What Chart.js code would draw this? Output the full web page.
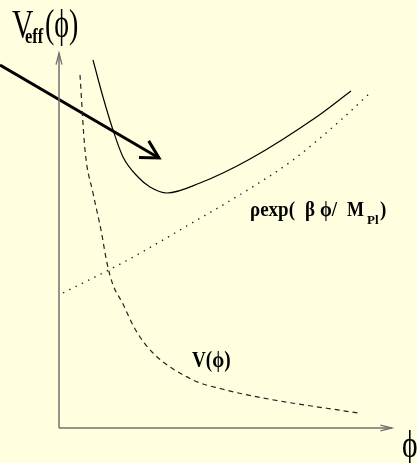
<!DOCTYPE html>
<html>
<head>
<meta charset="utf-8">
<script src="https://cdn.jsdelivr.net/npm/chart.js@4.4.1/dist/chart.umd.min.js"></script>
<style>
  body { margin: 0; background: #ffffe0; }
  canvas { display: block; }
</style>
</head>
<body>
<canvas id="potChart" width="417" height="463"></canvas>
<script>
// effective potential V_eff(phi) (solid)
const phiEff = [3.4, 4.4, 5.4, 6.4, 7.9, 9.1, 10.8, 14.1, 19.1, 25.6, 29.2];
const vEff = [36.8, 33.1, 29.8, 27.1, 25.1, 24.1, 23.5, 24.5, 26.9, 31.0, 33.7];
// bare potential V(phi) (dashed)
const phiV = [2.1, 2.6, 3.4, 4.2, 4.8, 5.4, 6.3, 7.6, 9.3, 13.4, 16.3, 20.4, 29.9];
const vBare = [35.3, 27.8, 23.5, 19.8, 16.5, 14.3, 12.6, 9.9, 7.6, 4.8, 3.9, 3.0, 1.5];
// coupling term rho exp(beta phi / M_Pl) (dotted)
const phiRho = [0.4, 6.7, 12.1, 19.5, 23.4, 28.3, 31.2];
const vRho = [13.5, 16.7, 19.8, 24.2, 26.8, 30.9, 33.6];
// axes and the big arrow
const xAxisEnd = 33.3;
const yAxisEnd = 37.5;
const arrowPhi = [-5.9, 10.0];
const arrowV = [36.3, 27.0];

const pts = (xs, ys) => xs.map((x, i) => ({ x: x, y: ys[i] }));

const arrowHeads = {
    id: 'arrowHeads',
    beforeDraw(chart) {
        const c = chart.ctx;
        c.save();
        c.fillStyle = '#ffffe0';
        c.fillRect(0, 0, chart.width, chart.height);
        c.restore();
    },
    afterDatasetsDraw(chart) {
        const c = chart.ctx;
        const sx = chart.scales.x, sy = chart.scales.y;
        function head(x0, y0, x1, y1, len, ang, color, w) {
            const ax = sx.getPixelForValue(x0), ay = sy.getPixelForValue(y0);
            const bx = sx.getPixelForValue(x1), by = sy.getPixelForValue(y1);
            const a = Math.atan2(ay - by, ax - bx);
            c.save();
            c.strokeStyle = color;
            c.lineWidth = w;
            c.beginPath();
            c.moveTo(bx + len * Math.cos(a - ang), by + len * Math.sin(a - ang));
            c.lineTo(bx, by);
            c.lineTo(bx + len * Math.cos(a + ang), by + len * Math.sin(a + ang));
            c.stroke();
            c.restore();
        }
        head(0, 0, xAxisEnd, 0, 12, 0.25, '#707070', 1.3);
        head(0, 0, 0, yAxisEnd, 12, 0.25, '#707070', 1.3);
        head(arrowPhi[0], arrowV[0], arrowPhi[1], arrowV[1], 20, 0.5, '#000', 3);

        // labels, squeezed sideways like the original
        function txt(s, x, y, font, sq) {
            c.save();
            c.font = font;
            c.translate(sx.getPixelForValue(x), sy.getPixelForValue(y));
            c.scale(sq || 1, 1);
            c.fillText(s, 0, 0);
            c.restore();
        }
        c.save();
        c.fillStyle = '#000';
        c.textBaseline = 'alphabetic';
        const serif = '"Liberation Serif", "DejaVu Serif", serif';
        txt('V', -4.7, 39.1, '40px ' + serif, 0.74);
        txt('eff', -3.4, 38.5, 'bold 20px ' + serif, 0.82);
        txt('(\u03D5)', -1.4, 39.1, '40px ' + serif, 0.7);
        txt('V(\u03D5)', 13.3, 6.1, 'bold 24px ' + serif, 0.8);
        txt('\u03C1exp(', 19.1, 21.2, 'bold 20px ' + serif, 0.95);
        txt('\u03B2', 24.6, 21.2, 'bold 20px ' + serif, 0.95);
        txt('\u03D5/', 26.1, 21.2, 'bold 20px ' + serif, 0.95);
        txt('M', 28.8, 21.2, 'bold 20px ' + serif, 0.9);
        txt('Pl', 30.8, 20.4, 'bold 13px ' + serif);
        txt(')', 32.1, 21.2, 'bold 20px ' + serif, 0.95);
        txt('\u03D5', 34.3, -2.9, '38px ' + serif, 0.78);
        c.restore();
    }
};

const ctx = document.getElementById('potChart').getContext('2d');
const potChart = new Chart(ctx, {
    type: 'line',
    data: {
        datasets: [
        {
            label: 'x axis',
            data: pts([0, xAxisEnd], [0, 0]),
            borderColor: '#707070',
            borderWidth: 1.5
        },
        {
            label: 'y axis',
            data: pts([0, 0], [0, yAxisEnd]),
            borderColor: '#707070',
            borderWidth: 1.5
        },
        {
            label: 'V_eff',
            data: pts(phiEff, vEff),
            borderColor: '#000',
            borderWidth: 1.2,
            cubicInterpolationMode: 'monotone'
        },
        {
            label: 'V',
            data: pts(phiV, vBare),
            borderColor: '#222',
            borderWidth: 1.2,
            borderDash: [5, 4],
            cubicInterpolationMode: 'monotone'
        },
        {
            label: 'rho exp',
            data: pts(phiRho, vRho),
            borderColor: '#222',
            borderWidth: 1.4,
            borderDash: [1.4, 5.6],
            cubicInterpolationMode: 'monotone'
        },
        {
            label: 'arrow',
            data: pts(arrowPhi, arrowV),
            borderColor: '#000',
            borderWidth: 3
        }
        ]
    },
    options: {
        responsive: false,
        animation: false,
        layout: { padding: 0 },
        elements: { point: { radius: 0 } },
        plugins: {
            legend: { display: false },
            tooltip: { enabled: false }
        },
        scales: {
            x: { type: 'linear', display: false, min: -5.9, max: 35.8 },
            y: { type: 'linear', display: false, min: -3.5, max: 42.8 }
        }
    },
    plugins: [arrowHeads]
});
</script>
</body>
</html>
